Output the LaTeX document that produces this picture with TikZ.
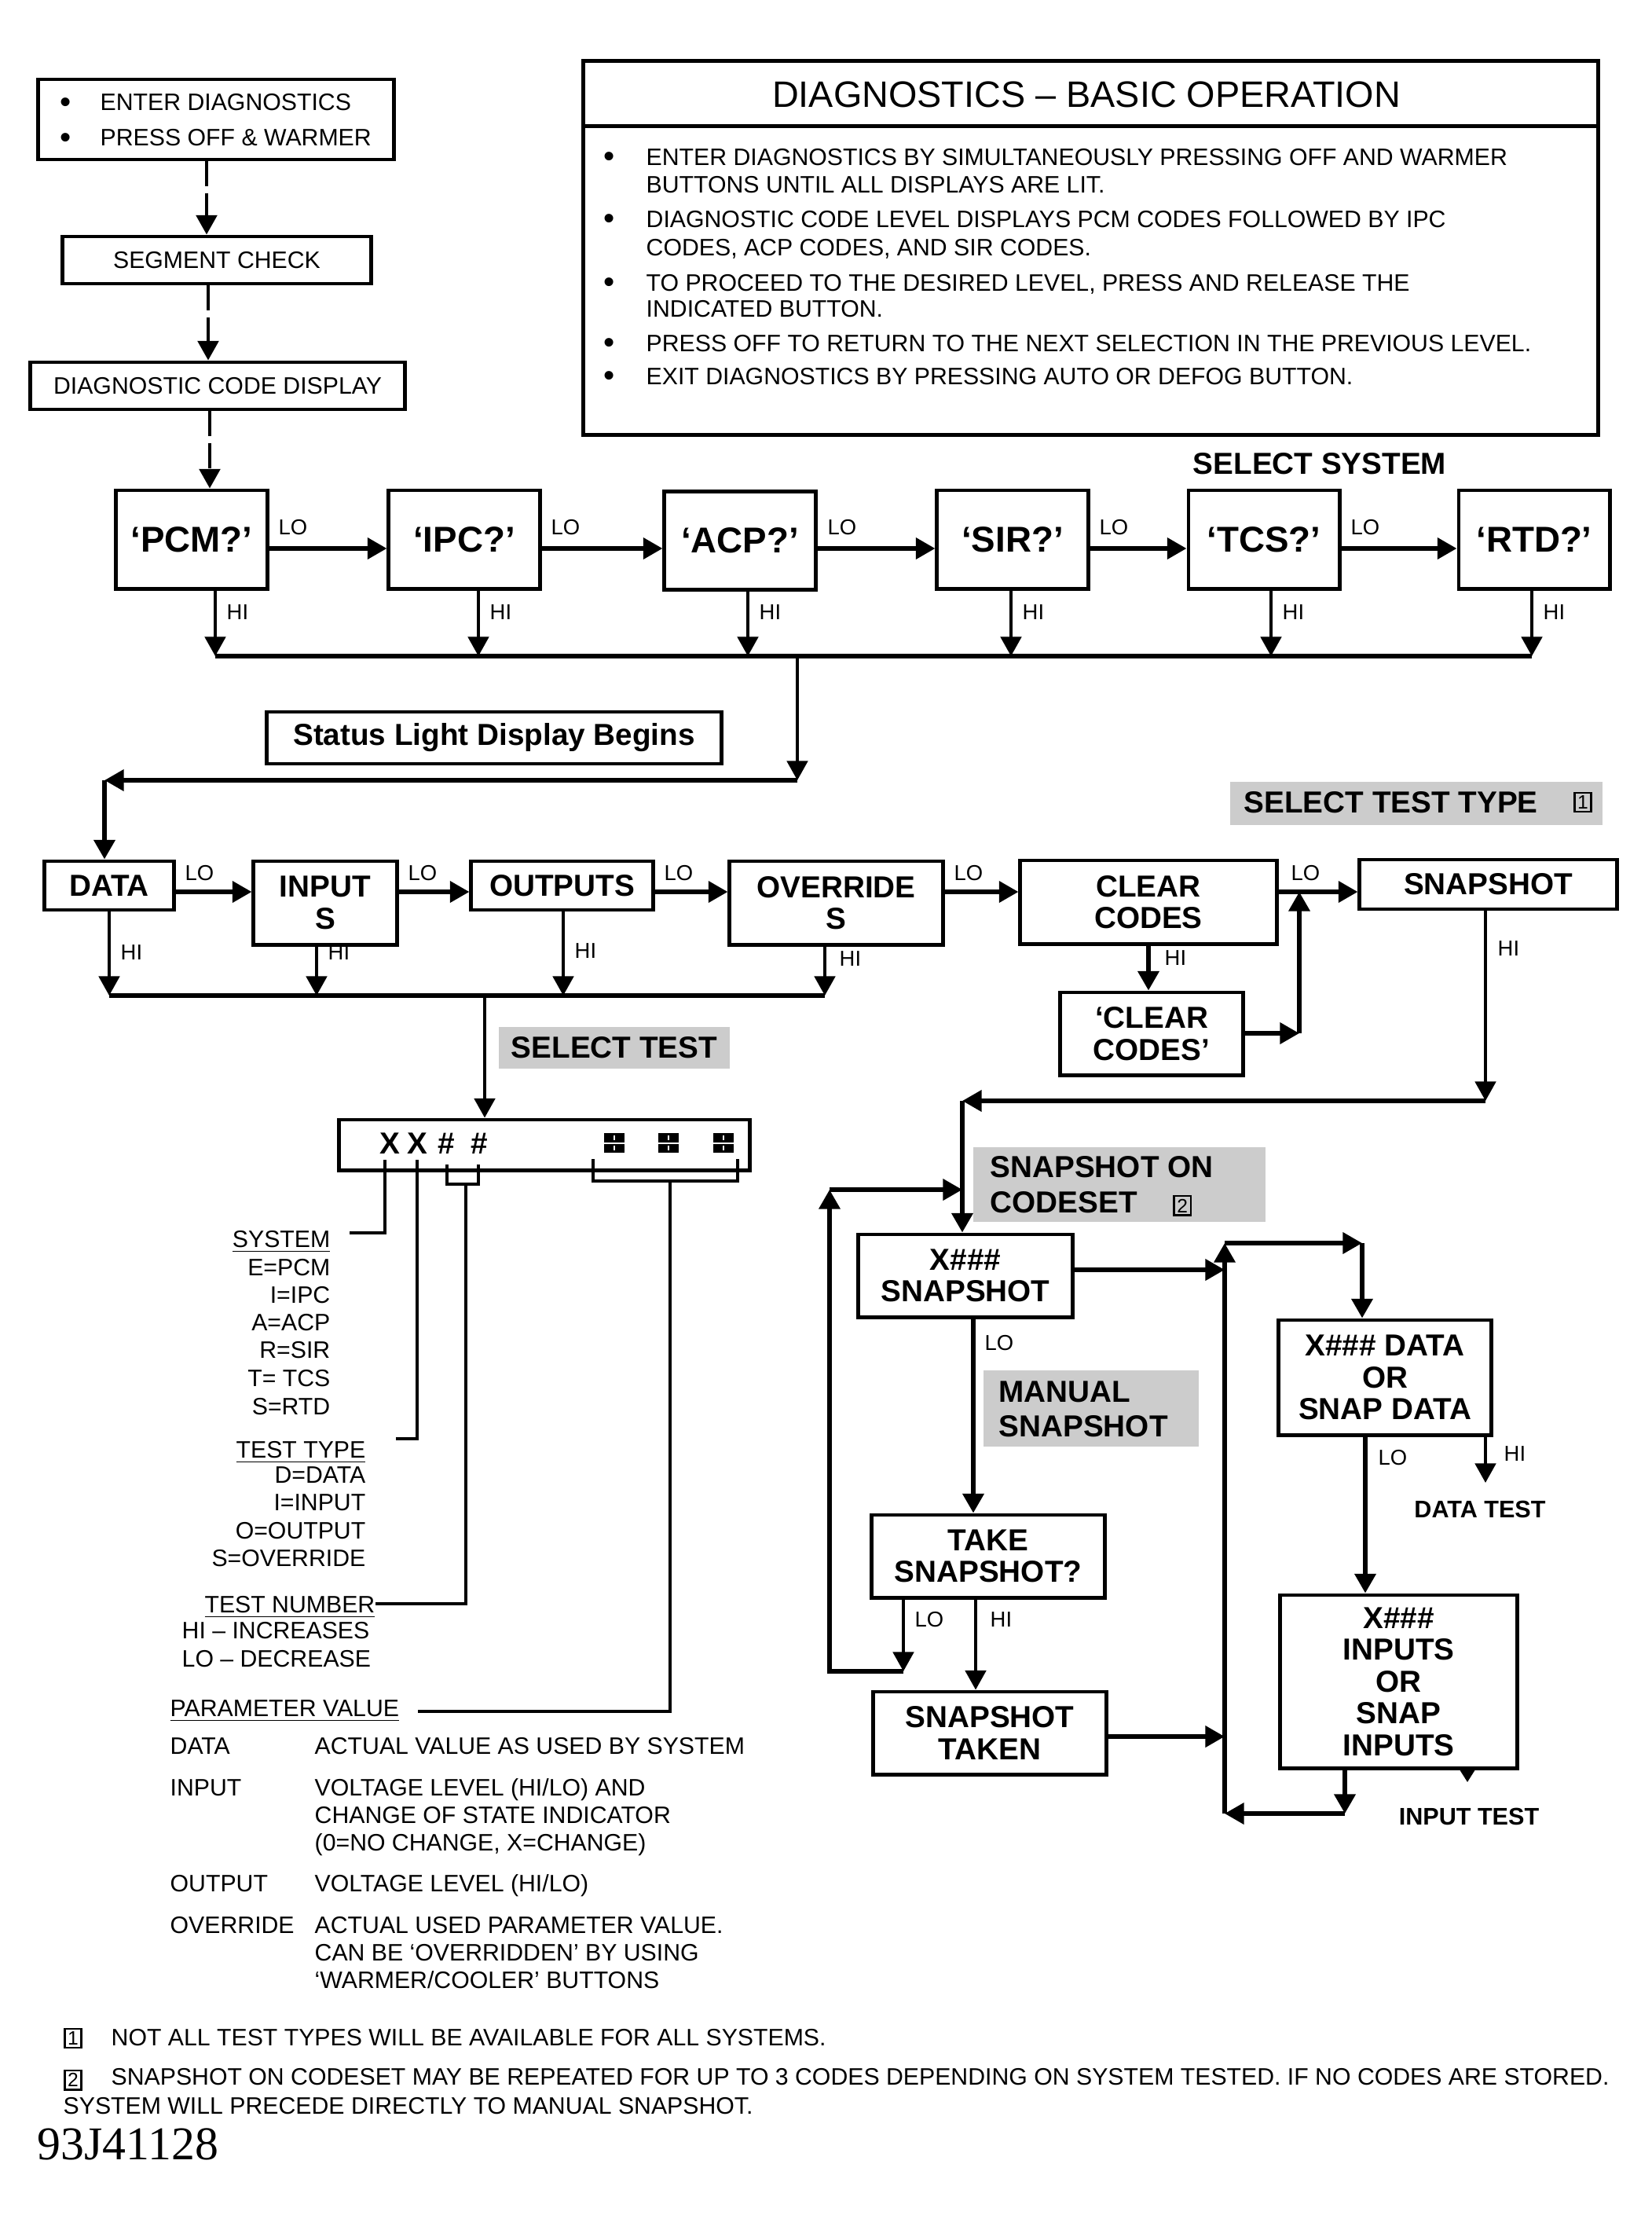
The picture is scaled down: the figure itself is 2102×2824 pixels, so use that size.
\documentclass[tikz,border=0pt]{standalone}
\usepackage{fontspec}
\setmainfont{Liberation Sans}
\newfontfamily\dgserif{Liberation Serif}
\usetikzlibrary{arrows.meta}
\newcommand\dgsm{\fontsize{8.6}{10}\selectfont}
\newcommand\dgbd{\bfseries\fontsize{11}{11.5}\selectfont}
\newcommand\dgsb{\bfseries\fontsize{8.7}{10}\selectfont}
\newcommand\dgsys{\bfseries\fontsize{13}{14}\selectfont}
\newcommand\dgtitle{\fontsize{13.3}{15}\selectfont}
\newcommand\dglab{\fontsize{7.8}{8}\selectfont}
\newcommand\dgdisp{\bfseries\fontsize{11}{11}\selectfont}
\newcommand\dgbul{\fontsize{11.5}{11.5}\selectfont}
\newcommand\fnmark[1]{{\setlength\fboxsep{0.7pt}\setlength\fboxrule{0.7pt}\fbox{\fontsize{7}{7}\selectfont\mdseries #1}}}
\tikzset{
  mybox/.style={draw, line width=1.4pt, inner sep=0pt, align=center},
  tbox/.style={mybox, font=\dgbd},
  sysbox/.style={mybox, font=\dgsys, minimum width=1.92cm, minimum height=1.25cm},
  grayband/.style={fill=black!20, draw=none, inner sep=0pt},
  txt/.style={inner sep=0pt, font=\dgsm},
  bul/.style={inner sep=0pt, font=\dgbul, anchor=base west},
  lab/.style={inner sep=0pt, anchor=west, font=\dglab},
  myarr/.style={-{Triangle[length=7pt,width=7.5pt]}},
  thickarr/.style={myarr, line width=1.6pt},
  thinarr/.style={myarr, line width=1.1pt},
  dasharr/.style={myarr, line width=1.2pt, dash pattern=on 9pt off 2.5pt},
  bus/.style={line width=1.5pt},
  leader/.style={line width=1.1pt}
}
\begin{document}
\begin{tikzpicture}[x=0.01cm,y=-0.01cm]
\fill[white] (0,0) rectangle (2102,2824);
\useasboundingbox (0,0) rectangle (2102,2824);

% ---------- top left
\node[mybox, minimum width=4.52cm, minimum height=1.02cm] (enter) at (275,152) {};
\node[bul] at (76,143) {\textbullet};
\node[txt, anchor=base west] at (127,140) {ENTER DIAGNOSTICS};
\node[bul] at (76,188) {\textbullet};
\node[txt, anchor=base west] at (127,185) {PRESS OFF \& WARMER};
\node[mybox, minimum width=3.92cm, minimum height=0.60cm, font=\dgsm] (seg) at (276,331) {SEGMENT CHECK};
\node[mybox, minimum width=4.76cm, minimum height=0.60cm, font=\dgsm] (diag) at (277,491) {DIAGNOSTIC CODE DISPLAY};

% ---------- basic operation box
\node[mybox, minimum width=12.91cm, minimum height=4.75cm] (basic) at (1388.5,315.5) {};
\draw[line width=1.4pt] ([yshift=-0.85cm]basic.north west) -- ([yshift=-0.85cm]basic.north east);
\node[inner sep=0pt, font=\dgtitle] at (1383,120) {DIAGNOSTICS -- BASIC OPERATION};
\foreach \y in {210,289,370,447,489} {\node[bul] at (768,\y+2) {\textbullet};}
\node[txt, anchor=base west] at (822,210) {ENTER DIAGNOSTICS BY SIMULTANEOUSLY PRESSING OFF AND WARMER};
\node[txt, anchor=base west] at (822,245) {BUTTONS UNTIL ALL DISPLAYS ARE LIT.};
\node[txt, anchor=base west] at (822,289) {DIAGNOSTIC CODE LEVEL DISPLAYS PCM CODES FOLLOWED BY IPC};
\node[txt, anchor=base west] at (822,325) {CODES, ACP CODES, AND SIR CODES.};
\node[txt, anchor=base west] at (822,370) {TO PROCEED TO THE DESIRED LEVEL, PRESS AND RELEASE THE};
\node[txt, anchor=base west] at (822,403) {INDICATED BUTTON.};
\node[txt, anchor=base west] at (822,447) {PRESS OFF TO RETURN TO THE NEXT SELECTION IN THE PREVIOUS LEVEL.};
\node[txt, anchor=base west] at (822,489) {EXIT DIAGNOSTICS BY PRESSING AUTO OR DEFOG BUTTON.};

% ---------- select system
\node[inner sep=0pt, font=\dgbd] at (1680,590) {SELECT SYSTEM};
\node[sysbox] (pcm) at (244,686.5) {‘PCM?’};
\node[sysbox] (ipc) at (591,686.5) {‘IPC?’};
\node[sysbox] (acp) at (942,688) {‘ACP?’};
\node[sysbox] (sir) at (1289,686.5) {‘SIR?’};
\node[sysbox] (tcs) at (1609,686.5) {‘TCS?’};
\node[sysbox] (rtd) at (1953,686.5) {‘RTD?’};

\node[mybox, minimum width=5.78cm, minimum height=0.66cm, font=\dgbd] (status) at (629,939) {Status Light Display Begins};

% ---------- select test type
\node[grayband, minimum width=4.74cm, minimum height=0.55cm] (sttband) at (1803,1022.5) {};
\node[inner sep=0pt, anchor=west, font=\dgbd] at (1583,1021) {SELECT TEST TYPE};
\node[inner sep=0pt] at (2015,1021) {\fnmark{1}};

\node[tbox, minimum width=1.64cm, minimum height=0.62cm] (data) at (139,1127) {DATA};
\node[tbox, minimum width=1.82cm, minimum height=1.06cm] (inputs) at (414,1149) {INPUT\\S};
\node[tbox, minimum width=2.31cm, minimum height=0.62cm] (outputs) at (715.5,1127) {OUTPUTS};
\node[tbox, minimum width=2.71cm, minimum height=1.06cm] (overrides) at (1064.5,1149) {OVERRIDE\\S};
\node[tbox, minimum width=3.26cm, minimum height=1.06cm] (clear) at (1462,1148) {CLEAR\\CODES};
\node[tbox, minimum width=3.27cm, minimum height=0.63cm] (snap) at (1894.5,1125.5) {SNAPSHOT};
\node[tbox, minimum width=2.32cm, minimum height=1.05cm] (qclear) at (1466,1315.5) {‘CLEAR\\CODES’};

\node[grayband, minimum width=2.94cm, minimum height=0.53cm, font=\dgbd] (stband) at (782,1333.5) {SELECT TEST};

% ---------- display
\node[mybox, minimum width=5.22cm, minimum height=0.64cm] (disp) at (693,1457) {};
\node[inner sep=0pt, font=\dgdisp] (dx1) at (496,1455) {X};
\node[inner sep=0pt, font=\dgdisp] (dx2) at (531,1455) {X};
\node[inner sep=0pt, font=\dgdisp] (dh1) at (568,1455) {\#};
\node[inner sep=0pt, font=\dgdisp] (dh2) at (610,1455) {\#};
\foreach \cx in {782,851,921} {
  \fill (\cx-13,1442) rectangle (\cx+13,1453.5);
  \fill (\cx-13,1455.5) rectangle (\cx+13,1467);
  \draw[white, line width=0.45pt] (\cx,1445) -- (\cx,1451) (\cx,1458) -- (\cx,1464);
}

% ---------- legend
\node[txt, anchor=base east] (lsys) at (421,1587) {\underline{SYSTEM}};
\node[txt, anchor=base east] at (421,1623) {E=PCM};
\node[txt, anchor=base east] at (421,1658) {I=IPC};
\node[txt, anchor=base east] at (421,1693) {A=ACP};
\node[txt, anchor=base east] at (421,1728) {R=SIR};
\node[txt, anchor=base east] at (421,1764) {T= TCS};
\node[txt, anchor=base east] at (421,1800) {S=RTD};
\node[txt, anchor=base east] (ltype) at (466,1855) {\underline{TEST TYPE}};
\node[txt, anchor=base east] at (466,1887) {D=DATA};
\node[txt, anchor=base east] at (466,1922) {I=INPUT};
\node[txt, anchor=base east] at (466,1958) {O=OUTPUT};
\node[txt, anchor=base east] at (466,1993) {S=OVERRIDE};
\node[txt, anchor=base east] (lnum) at (478,2052) {\underline{TEST NUMBER}};
\node[txt, anchor=base west] at (231,2085) {HI -- INCREASES};
\node[txt, anchor=base west] at (231,2121) {LO -- DECREASE};
\node[txt, anchor=base west] (lpar) at (216,2184) {\underline{PARAMETER VALUE}};
\node[txt, anchor=base west] at (216,2232) {DATA};
\node[txt, anchor=base west] at (400,2232) {ACTUAL VALUE AS USED BY SYSTEM};
\node[txt, anchor=base west] at (216,2285) {INPUT};
\node[txt, anchor=base west] at (400,2285) {VOLTAGE LEVEL (HI/LO) AND};
\node[txt, anchor=base west] at (400,2320) {CHANGE OF STATE INDICATOR};
\node[txt, anchor=base west] at (400,2355) {(0=NO CHANGE, X=CHANGE)};
\node[txt, anchor=base west] at (216,2407) {OUTPUT};
\node[txt, anchor=base west] at (400,2407) {VOLTAGE LEVEL (HI/LO)};
\node[txt, anchor=base west] at (216,2460) {OVERRIDE};
\node[txt, anchor=base west] at (400,2460) {ACTUAL USED PARAMETER VALUE.};
\node[txt, anchor=base west] at (400,2495) {CAN BE ‘OVERRIDDEN’ BY USING};
\node[txt, anchor=base west] at (400,2530) {‘WARMER/COOLER’ BUTTONS};

% ---------- snapshot section
\node[grayband, minimum width=3.72cm, minimum height=0.95cm] (codeband) at (1425,1507.5) {};
\node[inner sep=0pt, anchor=base west, font=\dgbd] at (1260,1498) {SNAPSHOT ON};
\node[inner sep=0pt, anchor=base west, font=\dgbd] at (1260,1543) {CODESET\hspace{13pt}\fnmark{2}};
\node[tbox, minimum width=2.72cm, minimum height=1.05cm] (xsnap) at (1229,1623.5) {X\#\#\#\\SNAPSHOT};
\node[grayband, minimum width=2.74cm, minimum height=0.97cm] (manband) at (1389,1792.5) {};
\node[inner sep=0pt, anchor=base west, font=\dgbd] at (1271,1784) {MANUAL};
\node[inner sep=0pt, anchor=base west, font=\dgbd] at (1271,1828) {SNAPSHOT};
\node[tbox, minimum width=2.96cm, minimum height=1.05cm] (take) at (1258,1980.5) {TAKE\\SNAPSHOT?};
\node[tbox, minimum width=2.96cm, minimum height=1.05cm] (taken) at (1260,2205.5) {SNAPSHOT\\TAKEN};
\node[tbox, minimum width=2.70cm, minimum height=1.46cm] (xdata) at (1763,1753) {X\#\#\# DATA\\OR\\SNAP DATA};
\node[tbox, minimum width=3.01cm, minimum height=2.20cm] (xin) at (1780.5,2140) {X\#\#\#\\INPUTS\\OR\\SNAP\\INPUTS};
\node[inner sep=0pt, font=\dgsb] at (1884,1921) {DATA TEST};
\node[inner sep=0pt, font=\dgsb] at (1870,2312) {INPUT TEST};

% ---------- footnotes
\node[inner sep=0pt] at (93,2594) {\fnmark{1}};
\node[txt, anchor=base west] at (141,2603) {NOT ALL TEST TYPES WILL BE AVAILABLE FOR ALL SYSTEMS.};
\node[inner sep=0pt] at (93,2647) {\fnmark{2}};
\node[txt, anchor=base west] at (141,2653) {SNAPSHOT ON CODESET MAY BE REPEATED FOR UP TO 3 CODES DEPENDING ON SYSTEM TESTED. IF NO CODES ARE STORED.};
\node[txt, anchor=base west] at (80,2690) {SYSTEM WILL PRECEDE DIRECTLY TO MANUAL SNAPSHOT.};
\node[inner sep=0pt, anchor=base west, font=\dgserif\fontsize{17}{17}\selectfont] at (47,2748) {93J41128};

% ================= connectors
\coordinate (d1) at (263,0); \coordinate (d2) at (265,0); \coordinate (d3) at (267,0);
\draw[dasharr] (enter.south -| d1) -- (seg.north -| d1);
\draw[dasharr] (seg.south -| d2) -- (diag.north -| d2);
\draw[dasharr] (diag.south -| d3) -- (pcm.north -| d3);

% row 1 LO
\coordinate (r1y) at (0,698);
\draw[thickarr] (pcm.east |- r1y) -- (ipc.west |- r1y);
\draw[thickarr] (ipc.east |- r1y) -- (acp.west |- r1y);
\draw[thickarr] (acp.east |- r1y) -- (sir.west |- r1y);
\draw[thickarr] (sir.east |- r1y) -- (tcs.west |- r1y);
\draw[thickarr] (tcs.east |- r1y) -- (rtd.west |- r1y);
\foreach \x in {354,701,1053,1399,1719} {\node[lab] at (\x,671) {LO};}
% row 1 HI
\coordinate (h1) at (274,835); \coordinate (h2) at (609,835); \coordinate (h3) at (952,835);
\coordinate (h4) at (1287,835); \coordinate (h5) at (1618,835); \coordinate (h6) at (1950,835);
\draw[thinarr] (pcm.south -| h1) -- (h1);
\draw[thinarr] (ipc.south -| h2) -- (h2);
\draw[thinarr] (acp.south -| h3) -- (h3);
\draw[thinarr] (sir.south -| h4) -- (h4);
\draw[thinarr] (tcs.south -| h5) -- (h5);
\draw[thinarr] (rtd.south -| h6) -- (h6);
\foreach \x in {288,623,966,1301,1632,1964} {\node[lab] at (\x,779) {HI};}
\draw[bus] (h1) -- (h6);
\coordinate (b1) at (1015,835); \coordinate (b2) at (1015,993); \coordinate (c1) at (133,993);
\draw[thinarr] (b1) -- (b2);
\draw[thickarr] (b2) -- (c1);
\draw[thickarr] (c1) -- (data.north -| c1);

% row 2 LO
\coordinate (r2y) at (0,1135);
\draw[thickarr] (data.east |- r2y) -- (inputs.west |- r2y);
\draw[thickarr] (inputs.east |- r2y) -- (outputs.west |- r2y);
\draw[thickarr] (outputs.east |- r2y) -- (overrides.west |- r2y);
\draw[thickarr] (overrides.east |- r2y) -- (clear.west |- r2y);
\draw[thickarr] (clear.east |- r2y) -- (snap.west |- r2y);
\foreach \x in {235,519,845,1214,1643} {\node[lab] at (\x,1111) {LO};}
% row 2 HI
\coordinate (g1) at (139,1267); \coordinate (g2) at (403,1267); \coordinate (g3) at (717,1267); \coordinate (g4) at (1050,1267);
\draw[thinarr] (data.south -| g1) -- (g1);
\draw[thinarr] (inputs.south -| g2) -- (g2);
\draw[thinarr] (outputs.south -| g3) -- (g3);
\draw[thinarr] (overrides.south -| g4) -- (g4);
\draw[bus] (g1) -- (g4);
\node[lab] at (153,1212) {HI};
\node[lab] at (417,1212) {HI};
\node[lab] at (731,1210) {HI};
\node[lab] at (1068,1220) {HI};
\coordinate (g5) at (617,1267);
\draw[thinarr] (g5) -- (disp.north -| g5);

% clear codes
\coordinate (q1) at (1462,0);
\draw[thickarr] (clear.south -| q1) -- (qclear.north -| q1);
\node[lab] at (1482,1219) {HI};
\coordinate (q2) at (1654,1315); \coordinate (q3) at (1654,1135);
\draw[thickarr] (qclear.east |- q2) -- (q2);
\draw[thickarr] (q2) -- (q3);

% snapshot HI
\coordinate (s1) at (1891,1401); \coordinate (s2) at (1225,1401);
\draw[thinarr] (snap.south -| s1) -- (s1);
\node[lab] at (1906,1207) {HI};
\draw[thickarr] (s1) -- (s2);
\draw[thickarr] (s2) -- (xsnap.north -| s2);

% xsnap -> right loop
\coordinate (r1) at (1559,1616);
\draw[thickarr] (xsnap.east |- r1) -- (r1);
\coordinate (r0) at (1559,2308); \coordinate (r2) at (1559,1582); \coordinate (r3) at (1734,1582);
\draw[thickarr] (r0) -- (r2);
\draw[thickarr] (r2) -- (r3);
\draw[thickarr] (r3) -- (xdata.north -| r3);

% xdata
\coordinate (x1) at (1738,0); \coordinate (x2) at (1891,1887);
\draw[thickarr] (xdata.south -| x1) -- (xin.north -| x1);
\node[lab] at (1754,1855) {LO};
\draw[thinarr] (xdata.south -| x2) -- (x2);
\node[lab] at (1914,1850) {HI};

% xin
\coordinate (y1) at (1712,2308); \coordinate (y2) at (1868,2268);
\draw[thickarr] (xin.south -| y1) -- (y1);
\draw[thickarr] (y1) -- (r0);
\draw[-{Triangle[length=5pt,width=6pt]}, line width=1pt] (xin.south -| y2) -- (y2);

% manual snapshot
\coordinate (m1) at (1239,0);
\draw[thickarr] (xsnap.south -| m1) -- (take.north -| m1);
\node[lab] at (1253,1709) {LO};
\coordinate (k1) at (1150,2127); \coordinate (k2) at (1056,2127); \coordinate (k3) at (1056,1514); \coordinate (k4) at (1225,1514);
\draw[thinarr] (take.south -| k1) -- (k1);
\draw[thickarr] (k1) -- (k2) -- (k3);
\draw[thickarr] (k3) -- (k4);
\node[lab] at (1164,2061) {LO};
\coordinate (k5) at (1242,0);
\draw[thinarr] (take.south -| k5) -- (taken.north -| k5);
\node[lab] at (1260,2061) {HI};
\coordinate (k6) at (1559,2210);
\draw[thickarr] (taken.east |- k6) -- (k6);

% display leaders
\coordinate (e1) at (490,1476); \coordinate (L1) at (445,1569);
\draw[leader] (e1) |- (L1);
\coordinate (e2) at (531,1476); \coordinate (L2) at (504,1831);
\draw[leader] (e2) |- (L2);
\draw[leader] (569,1482) -- (569,1507) -- (609,1507) -- (609,1482);
\coordinate (e3) at (593,1507); \coordinate (L3) at (478,2041);
\draw[leader] (e3) |- (L3);
\draw[leader] (755,1475) -- (755,1503) -- (939,1503) -- (939,1475);
\coordinate (e4) at (853,1503); \coordinate (L4) at (532,2178);
\draw[leader] (e4) |- (L4);
\end{tikzpicture}
\end{document}
